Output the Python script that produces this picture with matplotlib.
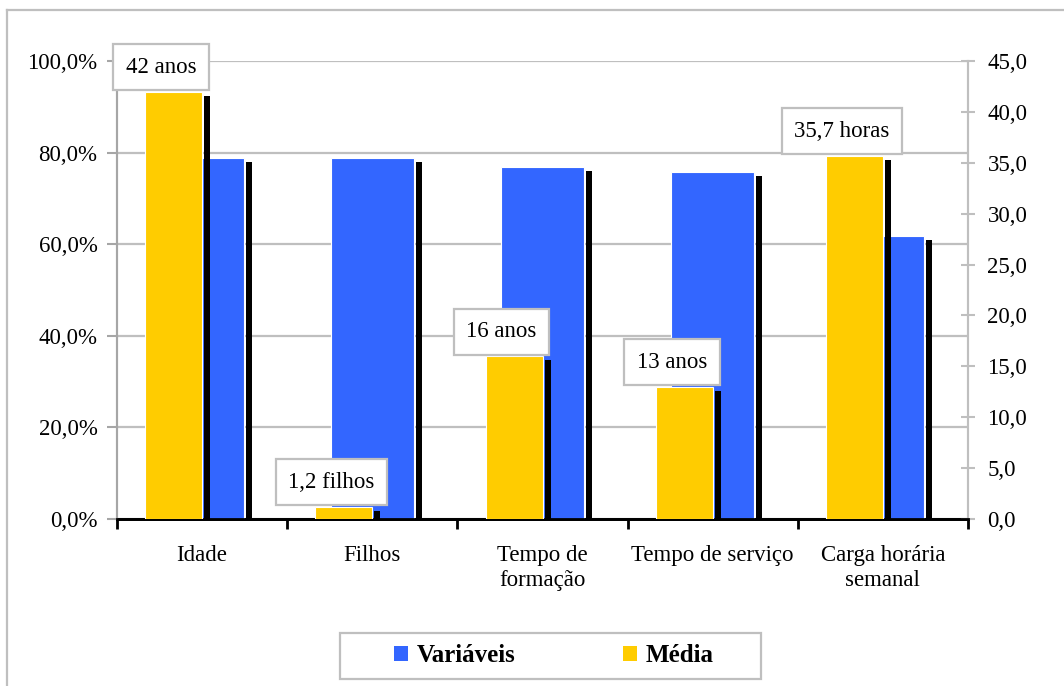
import matplotlib.pyplot as plt
import numpy as np
from matplotlib.lines import Line2D
from matplotlib.patches import Rectangle, Patch

plt.rcParams["font.family"] = ["Liberation Serif", "DejaVu Serif"]
plt.rcParams["font.size"] = 16.5

categorias = ["Idade", "Filhos", "Tempo de\nformação", "Tempo de serviço", "Carga horária\nsemanal"]
variaveis = [78.8, 78.8, 76.9, 75.8, 61.8]      # eixo esquerdo (%)
media = [42.0, 1.2, 16.0, 13.0, 35.7]           # eixo direito
rotulos = ["42 anos", "1,2 filhos", "16 anos", "13 anos", "35,7 horas"]

azul = "#3366FF"
amarelo = "#FFCC00"
cinza = "#BFBFBF"

fig = plt.figure(figsize=(10.64, 6.86), dpi=100)
ax = fig.add_axes([117 / 1064, 1 - 519 / 686, 851 / 1064, 458 / 686])
ax2 = ax.twinx()

x = np.arange(len(categorias))
px = 5.0 / 851          # um pixel em unidades de x
w_azul = 83 * px
w_amar = 57 * px
off_amar = -w_amar / 2

def barras_com_sombra(eixo, pos, valores, largura, cor, ymax, z):
    dy = 4 / 458 * ymax
    dx_ini = largura / 2 + 2 * px
    for xi, v in zip(pos, valores):
        eixo.bar(xi + dx_ini, max(v - dy, 0), width=6 * px, align="edge",
                 color="black", linewidth=0, zorder=z)
    eixo.bar(pos, valores, width=largura, color=cor, edgecolor="white",
             linewidth=0.8, zorder=z + 1)

barras_com_sombra(ax, x, variaveis, w_azul, azul, 100, 2)
barras_com_sombra(ax2, x + off_amar, media, w_amar, amarelo, 45, 2)

# eixo esquerdo
ax.set_ylim(0, 100)
ax.set_yticks(np.arange(0, 101, 20))
ax.set_yticklabels([f"{v:.1f}%".replace(".", ",") for v in np.arange(0, 101, 20)])
ax.yaxis.grid(True, color=cinza, linewidth=1.6, zorder=0)
ax.set_axisbelow(True)
ax.tick_params(axis="y", direction="out", length=7, width=1.5, color="#A6A6A6", pad=7)

# eixo direito
ax2.set_ylim(0, 45)
ax2.set_yticks(np.arange(0, 46, 5))
ax2.set_yticklabels([f"{v:.1f}".replace(".", ",") for v in np.arange(0, 46, 5)])
ax2.tick_params(axis="y", direction="inout", length=10, width=1.5, color=cinza, pad=9)

# eixo x: marcas entre categorias, rótulos no centro
ax.set_xlim(-0.5, len(categorias) - 0.5)
ax.set_xticks(np.arange(-0.5, len(categorias), 1))
ax.set_xticklabels([])
ax.set_xticks(x, minor=True)
ax.set_xticklabels(categorias, minor=True, linespacing=1.2)
ax.tick_params(axis="x", which="major", direction="out", length=7, width=2, color="black")
ax.tick_params(axis="x", which="minor", length=0, pad=19)

for a in (ax, ax2):
    a.spines["top"].set_visible(False)
    a.spines["bottom"].set_color("black")
    a.spines["bottom"].set_linewidth(2)
    a.spines["left"].set_color("#A6A6A6")
    a.spines["left"].set_linewidth(1.5)
    a.spines["right"].set_color(cinza)
    a.spines["right"].set_linewidth(1.5)

# rótulos das médias
for xi, v, txt in zip(x, media, rotulos):
    ax2.annotate(txt, xy=(xi - 0.24, v), xytext=(0, 14), textcoords="offset pixels",
                 ha="center", va="bottom", fontsize=16.5, zorder=10, annotation_clip=False,
                 bbox=dict(boxstyle="square,pad=0.55", facecolor="white",
                           edgecolor=cinza, linewidth=1.6))

# legenda
leg = fig.legend(handles=[Patch(facecolor=azul, label="Variáveis"),
                          Patch(facecolor=amarelo, label="Média")],
                 loc="center", bbox_to_anchor=(554 / 1064, 1 - 656 / 686), ncol=2,
                 frameon=False, handlelength=0.55, handleheight=0.55, handletextpad=0.35,
                 columnspacing=4.3, prop={"weight": "bold", "size": 18})
fig.patches.append(Rectangle((340 / 1064, 1 - 679 / 686), 421 / 1064, 46 / 686,
                             transform=fig.transFigure, facecolor="none",
                             edgecolor=cinza, linewidth=1.6))

# moldura externa
fig.lines.append(Line2D([7 / 1064, 1], [1 - 10 / 686, 1 - 10 / 686],
                        transform=fig.transFigure, color=cinza, linewidth=1.6))
fig.lines.append(Line2D([7 / 1064, 7 / 1064], [0, 1 - 10 / 686],
                        transform=fig.transFigure, color=cinza, linewidth=1.6))

fig.savefig("out.png", dpi=100)
